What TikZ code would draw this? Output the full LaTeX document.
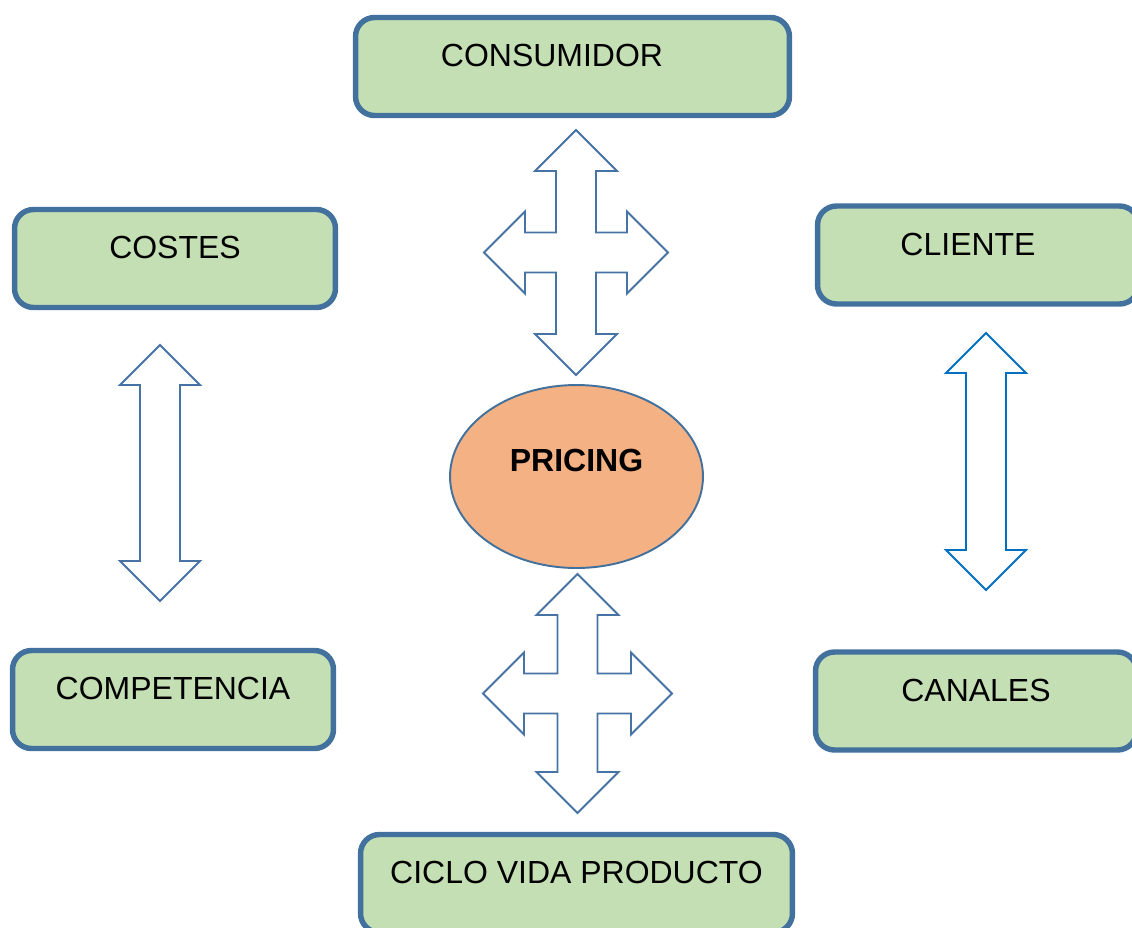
\documentclass[tikz,border=0pt]{standalone}
\usepackage{fontspec}
\setmainfont{Liberation Sans}
\usepackage{xcolor}
\usetikzlibrary{shapes.geometric}

\definecolor{cajaverde}{HTML}{C4DFB4}
\definecolor{bordeazul}{HTML}{41719C}
\definecolor{flechaazul}{HTML}{4672A4}
\definecolor{flechaclara}{HTML}{0070C0}
\definecolor{naranja}{HTML}{F4B183}

\begin{document}
\begin{tikzpicture}[x=0.02cm,y=-0.02cm,
	every node/.style={font=\fontsize{18.2}{21}\selectfont,text height=12.9pt,inner sep=0pt},
	caja/.style={draw=bordeazul,line width=3.1pt,fill=cajaverde,rounded corners=0.38cm,
		minimum height=1.96cm,text depth=12.6pt},
	precio/.style={ellipse,draw=bordeazul,line width=1.1pt,fill=naranja,
		minimum width=5.06cm,minimum height=3.66cm,text depth=18.7pt,font=\fontsize{18.2}{21}\selectfont\bfseries},
	flecha/.style={draw=flechaazul,line width=1.1pt,fill=white},
]
\useasboundingbox (0,0) rectangle (1132,927);

% cajas
\node[caja,minimum width=8.68cm] (consumidor) at (572.5,66.5) {CONSUMIDOR\hspace*{0.82cm}};
\node[caja,minimum width=6.42cm] (costes) at (175,258.5) {COSTES};
\node[caja,minimum width=6.42cm] (competencia) at (173,699.5) {COMPETENCIA};
\node[caja,minimum width=6.42cm] (cliente) at (978,255) {CLIENTE\hspace*{0.4cm}};
\node[caja,minimum width=6.42cm] (canales) at (976,701) {CANALES};
\node[caja,minimum width=8.64cm] (ciclo) at (576.5,883.5) {CICLO VIDA PRODUCTO};

\node[precio] (pricing) at (576.5,476.5) {PRICING};

% flechas de cuatro puntas
\draw[flecha,shift={(576,252.5)}] (0,-122.5) -- (41,-81.5) -- (20,-81.5) -- (20,-20) -- (51,-20) -- (51,-41) -- (92,0) -- (51,41) -- (51,20) -- (20,20) -- (20,81.5) -- (41,81.5) -- (0,122.5) -- (-41,81.5) -- (-20,81.5) -- (-20,20) -- (-51,20) -- (-51,41) -- (-92,0) -- (-51,-41) -- (-51,-20) -- (-20,-20) -- (-20,-81.5) -- (-41,-81.5) -- cycle;
\draw[flecha,shift={(577.5,693.5)}] (0,-119.5) -- (41,-78.5) -- (20,-78.5) -- (20,-20) -- (53.5,-20) -- (53.5,-41) -- (94.5,0) -- (53.5,41) -- (53.5,20) -- (20,20) -- (20,78.5) -- (41,78.5) -- (0,119.5) -- (-41,78.5) -- (-20,78.5) -- (-20,20) -- (-53.5,20) -- (-53.5,41) -- (-94.5,0) -- (-53.5,-41) -- (-53.5,-20) -- (-20,-20) -- (-20,-78.5) -- (-41,-78.5) -- cycle;

% flechas dobles
\draw[flecha,shift={(160,473)}] (0,-128) -- (40,-88) -- (20,-88) -- (20,88) -- (40,88) -- (0,128) -- (-40,88) -- (-20,88) -- (-20,-88) -- (-40,-88) -- cycle;
\draw[flecha,draw=flechaclara,shift={(986,461.5)}] (0,-128.5) -- (40,-88.5) -- (20,-88.5) -- (20,88.5) -- (40,88.5) -- (0,128.5) -- (-40,88.5) -- (-20,88.5) -- (-20,-88.5) -- (-40,-88.5) -- cycle;
\end{tikzpicture}
\end{document}
